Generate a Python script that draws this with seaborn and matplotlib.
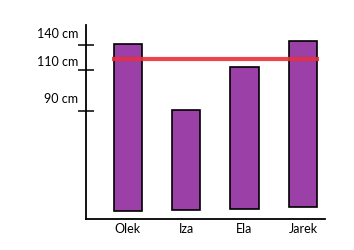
import numpy as np
import pandas as pd
import matplotlib
matplotlib.use("Agg")
import matplotlib.pyplot as plt
import matplotlib.transforms as mtransforms
import seaborn as sns

# dane (cm)
imiona = ["Olek", "Iza", "Ela", "Jarek"]
wzrost_gora = [141.2, 90.5, 113.6, 144.8]
wzrost_dol = [6.7, 7.5, 8.3, 10.0]
prog = 123.2
ticki = [90, 110, 140]
etykiety = ["90 cm", "110 cm", "140 cm"]

# rysunek odręczny - skala nieliniowa (cm -> pozycja na osi)
skala_cm = [0, 90, 110, 140, 200]
skala_poz = [0, 108, 149, 174, 224]


def do_poz(v):
    return np.interp(v, skala_cm, skala_poz)


def do_cm(p):
    return np.interp(p, skala_poz, skala_cm)


def main():
    sns.set_theme(style="white")
    plt.rcParams["font.family"] = ["Lato", "DejaVu Sans"]

    df = pd.DataFrame({
        "imie": imiona,
        "wysokosc": np.array(wzrost_gora) - np.array(wzrost_dol),
    })

    fig = plt.figure(figsize=(3.54, 2.5), dpi=100)
    ax = fig.add_axes([0.243, 0.124, 0.675, 0.776])
    ax.set_yscale("function", functions=(do_poz, do_cm))

    sns.barplot(
        data=df, x="imie", y="wysokosc", order=imiona, ax=ax,
        color="#9b40a7", saturation=1, width=0.48,
        bottom=wzrost_dol, edgecolor="black", linewidth=1.2,
    )

    ax.hlines(prog, -0.27, 3.27, color="#e8303c", linewidth=3, alpha=0.9, zorder=5)

    ax.set_xlim(-0.71, 3.376)
    ax.set_ylim(0, 164)
    ax.set_xlabel("")
    ax.set_ylabel("")

    for s in ["top", "right"]:
        ax.spines[s].set_visible(False)
    for s in ["left", "bottom"]:
        ax.spines[s].set_color("black")
        ax.spines[s].set_linewidth(1.3)

    ax.set_yticks(ticki)
    ax.set_yticklabels([])
    ax.tick_params(axis="y", direction="inout", length=11, width=1.1, color="black", left=True)
    ax.tick_params(axis="x", length=0, pad=3, labelsize=9, colors="black")

    # etykiety nad kreskami, jak na oryginale
    przes = {90: 12, 110: 8, 140: 11}
    for t, lab in zip(ticki, etykiety):
        tr = mtransforms.blended_transform_factory(ax.transAxes, ax.transData)
        tr = tr + mtransforms.ScaledTranslation(-8 / 100, przes[t] / 100, fig.dpi_scale_trans)
        ax.text(0, t, lab, transform=tr, ha="right", va="center", fontsize=9, color="black")

    fig.savefig("out.png", dpi=100)


if __name__ == "__main__":
    main()
